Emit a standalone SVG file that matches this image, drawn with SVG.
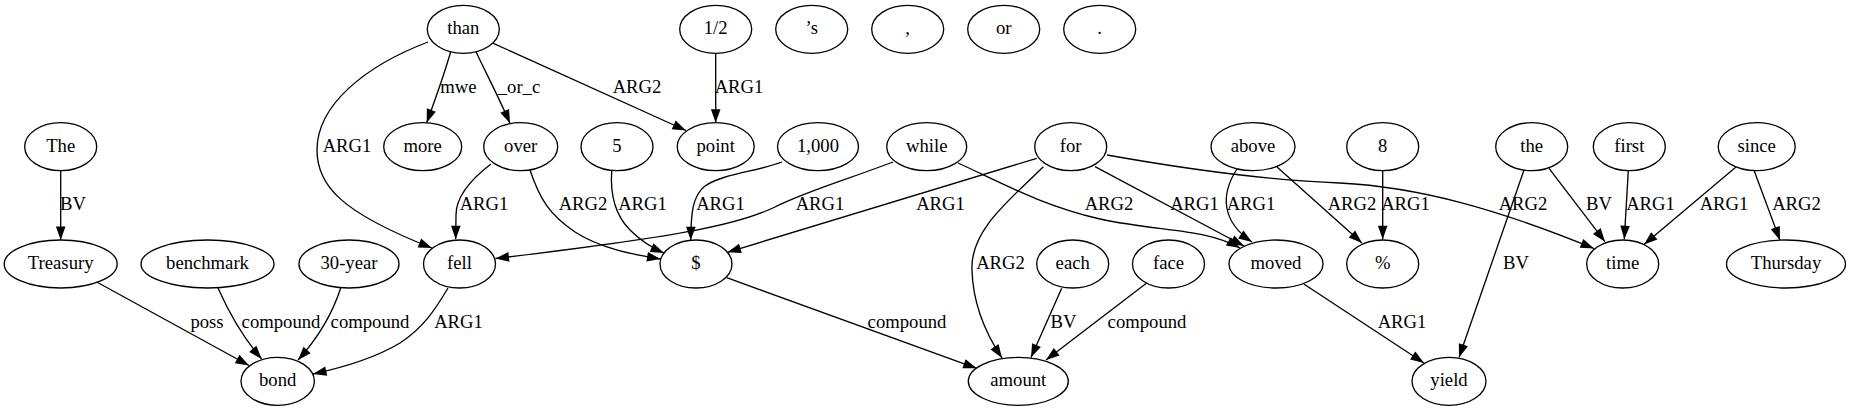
<svg xmlns="http://www.w3.org/2000/svg" width="1851" height="411" viewBox="0 0 1851 411" font-family="Liberation Serif, Tinos, Noto Serif, DejaVu Serif, serif">
<style>
.n ellipse{fill:none;stroke:#000;stroke-width:1.33}
text{font-family:"Liberation Serif",Tinos,"Noto Serif","DejaVu Serif",serif;font-size:18.67px;text-anchor:middle;fill:#000}
.e path{fill:none;stroke:#000;stroke-width:1.33;marker-end:url(#a)}
</style>
<defs>
<marker id="a" markerUnits="userSpaceOnUse" markerWidth="16" markerHeight="12" refX="13.5" refY="4.8" orient="auto" overflow="visible">
<path d="M0,0 L13.5,4.8 L0,9.6 Z" fill="#000" stroke="none"/>
</marker>
</defs>
<rect width="1851" height="411" fill="#fff"/>
<g id="edges" class="e">
<path d="M450.7,51.7 C444,75 435,100 426.7,122.7"/>
<path d="M476,51.7 C487,75 500,100 510,123.3"/>
<path d="M493.3,43.3 L686,130.5"/>
<path d="M428,42 C365,66 317,105 317,150 C317,185 340,212 432,248"/>
<path d="M715.7,53.3 L715.7,122.7"/>
<path d="M60.7,170.7 L60.7,240"/>
<path d="M491,164 C470,180 456,198 456,215 L455.7,239.2"/>
<path d="M530,170 C540,200 550,215 575,232 C600,248 630,254 660.5,259"/>
<path d="M611.7,170.5 C610,195 615,215 630,230 C640,240 650,247 664,253"/>
<path d="M782,162 C755,172 722,174 705,186 C692,196 691,215 690.7,240.2"/>
<path d="M893,162 C840,182 805,192 775,207 C740,224 690,235 495.5,258.5"/>
<path d="M958,163 C1000,182 1040,205 1100,219 C1160,232 1205,228 1240,248"/>
<path d="M1036.7,158.3 L727.5,252.3"/>
<path d="M1043.3,166.7 C1010,200 970,230 972,270 C973,310 990,340 1002,358"/>
<path d="M1095,166.7 L1244,246"/>
<path d="M1107,155 C1180,168 1260,180 1340,183 C1420,187 1500,210 1594,248.5"/>
<path d="M1237,169 C1220,195 1222,222 1252,242"/>
<path d="M1277,167 L1362,243"/>
<path d="M1382.7,170.7 L1382.7,239.3"/>
<path d="M1549,168.3 L1605,241.7"/>
<path d="M1628.3,170.7 L1624.3,239.3"/>
<path d="M1736,167 L1644,244.5"/>
<path d="M1754,170.3 L1780,240.3"/>
<path d="M1524,170 L1459,357.5"/>
<path d="M96.7,282 L249,365.5"/>
<path d="M218,288 C230,315 245,340 261.7,359"/>
<path d="M340.7,288 C332,315 318,338 298,360"/>
<path d="M448,288 C435,310 423,328 400,343 C380,355 350,366 313,374"/>
<path d="M726.7,277.7 L976.7,368.3"/>
<path d="M1061.7,288.3 L1031,357.5"/>
<path d="M1146.7,283 L1046,360"/>
<path d="M1303.8,284 L1424,363"/>
</g>
<g id="edge-labels">
<text x="458.5" y="93">mwe</text>
<text x="519" y="93">_or_c</text>
<text x="637" y="93">ARG2</text>
<text x="739" y="93">ARG1</text>
<text x="347" y="152">ARG1</text>
<text x="73" y="210">BV</text>
<text x="484" y="210">ARG1</text>
<text x="583" y="210">ARG2</text>
<text x="642.5" y="210">ARG1</text>
<text x="720.5" y="210">ARG1</text>
<text x="820" y="210">ARG1</text>
<text x="940.5" y="210">ARG1</text>
<text x="1109" y="210">ARG2</text>
<text x="1194.5" y="210">ARG1</text>
<text x="1251" y="210">ARG1</text>
<text x="1352" y="210">ARG2</text>
<text x="1405.5" y="210">ARG1</text>
<text x="1523" y="210">ARG2</text>
<text x="1599" y="210">BV</text>
<text x="1650.5" y="210">ARG1</text>
<text x="1724" y="210">ARG1</text>
<text x="1796.5" y="210">ARG2</text>
<text x="1000.5" y="269">ARG2</text>
<text x="1516" y="269">BV</text>
<text x="207" y="328">poss</text>
<text x="281" y="328">compound</text>
<text x="370" y="328">compound</text>
<text x="458.5" y="328">ARG1</text>
<text x="907" y="328">compound</text>
<text x="1063.5" y="328">BV</text>
<text x="1147" y="328">compound</text>
<text x="1402" y="328">ARG1</text>
</g>
<g class="n">
<g id="n-than"><ellipse cx="463.3" cy="29.3" rx="36" ry="24"/><text x="463.3" y="34.3">than</text></g>
<g id="n-half"><ellipse cx="715.7" cy="29.3" rx="36" ry="24"/><text x="715.7" y="34.3">1/2</text></g>
<g id="n-s"><ellipse cx="811.7" cy="29.3" rx="36" ry="24"/><text x="811.7" y="34.3">’s</text></g>
<g id="n-comma"><ellipse cx="907.7" cy="29.3" rx="36" ry="24"/><text x="907.7" y="34.3">,</text></g>
<g id="n-or"><ellipse cx="1003.7" cy="29.3" rx="36" ry="24"/><text x="1003.7" y="34.3">or</text></g>
<g id="n-period"><ellipse cx="1099.7" cy="29.3" rx="36" ry="24"/><text x="1099.7" y="34.3">.</text></g>
<g id="n-The"><ellipse cx="60.7" cy="146.7" rx="36" ry="24"/><text x="60.7" y="151.7">The</text></g>
<g id="n-more"><ellipse cx="422.7" cy="146.7" rx="39" ry="24"/><text x="422.7" y="151.7">more</text></g>
<g id="n-over"><ellipse cx="520.7" cy="146.7" rx="37" ry="24"/><text x="520.7" y="151.7">over</text></g>
<g id="n-5"><ellipse cx="617" cy="146.7" rx="36" ry="24"/><text x="617" y="151.7">5</text></g>
<g id="n-point"><ellipse cx="715.7" cy="146.7" rx="38.5" ry="24"/><text x="715.7" y="151.7">point</text></g>
<g id="n-1000"><ellipse cx="818" cy="146.7" rx="40.5" ry="24"/><text x="818" y="151.7">1,000</text></g>
<g id="n-while"><ellipse cx="926.7" cy="146.7" rx="40" ry="24"/><text x="926.7" y="151.7">while</text></g>
<g id="n-for"><ellipse cx="1070.7" cy="146.7" rx="36" ry="24"/><text x="1070.7" y="151.7">for</text></g>
<g id="n-above"><ellipse cx="1253" cy="146.7" rx="42" ry="24"/><text x="1253" y="151.7">above</text></g>
<g id="n-8"><ellipse cx="1382.7" cy="146.7" rx="36" ry="24"/><text x="1382.7" y="151.7">8</text></g>
<g id="n-the"><ellipse cx="1531.7" cy="146.7" rx="36" ry="24"/><text x="1531.7" y="151.7">the</text></g>
<g id="n-first"><ellipse cx="1629.3" cy="146.7" rx="36" ry="24"/><text x="1629.3" y="151.7">first</text></g>
<g id="n-since"><ellipse cx="1756.7" cy="146.7" rx="38.5" ry="24"/><text x="1756.7" y="151.7">since</text></g>
<g id="n-Treasury"><ellipse cx="60.7" cy="264" rx="56.5" ry="24"/><text x="60.7" y="269">Treasury</text></g>
<g id="n-benchmark"><ellipse cx="207.5" cy="264" rx="66.5" ry="24"/><text x="207.5" y="269">benchmark</text></g>
<g id="n-30year"><ellipse cx="349" cy="264" rx="50" ry="24"/><text x="349" y="269">30-year</text></g>
<g id="n-fell"><ellipse cx="459.5" cy="264" rx="36" ry="24"/><text x="459.5" y="269">fell</text></g>
<g id="n-dollar"><ellipse cx="696" cy="264" rx="36" ry="24"/><text x="696" y="269">$</text></g>
<g id="n-each"><ellipse cx="1072.7" cy="264" rx="36" ry="24"/><text x="1072.7" y="269">each</text></g>
<g id="n-face"><ellipse cx="1168.5" cy="264" rx="36" ry="24"/><text x="1168.5" y="269">face</text></g>
<g id="n-moved"><ellipse cx="1276" cy="264" rx="47" ry="24"/><text x="1276" y="269">moved</text></g>
<g id="n-percent"><ellipse cx="1382.7" cy="264" rx="36" ry="24"/><text x="1382.7" y="269">%</text></g>
<g id="n-time"><ellipse cx="1622.7" cy="264" rx="36" ry="24"/><text x="1622.7" y="269">time</text></g>
<g id="n-Thursday"><ellipse cx="1786" cy="264" rx="59.5" ry="24"/><text x="1786" y="269">Thursday</text></g>
<g id="n-bond"><ellipse cx="277.7" cy="381.3" rx="36.7" ry="24"/><text x="277.7" y="386.3">bond</text></g>
<g id="n-amount"><ellipse cx="1018.3" cy="381.3" rx="50" ry="24"/><text x="1018.3" y="386.3">amount</text></g>
<g id="n-yield"><ellipse cx="1449" cy="381.3" rx="37" ry="24"/><text x="1449" y="386.3">yield</text></g>
</g>
</svg>
